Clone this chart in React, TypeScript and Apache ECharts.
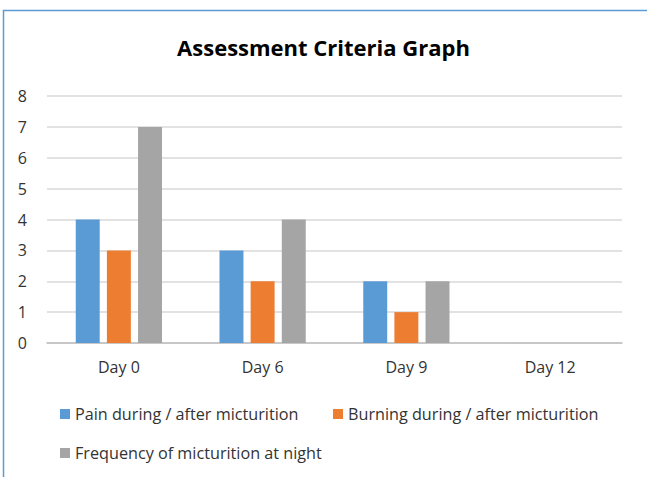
import React, { useEffect, useRef } from "react";
import * as echarts from "echarts";

const categories = ["Day 0", "Day 6", "Day 9", "Day 12"];
const painValues = [4, 3, 2, 0];
const burningValues = [3, 2, 1, 0];
const frequencyValues = [7, 4, 2, 0];
const seriesNames = [
  "Pain during / after micturition",
  "Burning during / after micturition",
  "Frequency of micturition at night",
];
const colors = ["#5B9BD5", "#ED7D31", "#A5A5A5"];
const FONT = "Open Sans";

export default function App() {
  const ref = useRef<HTMLDivElement>(null);
  useEffect(() => {
    if (!ref.current) return;
    const chart = echarts.init(ref.current, undefined, { renderer: "svg" });
    const legendText = { fontFamily: FONT, fontSize: 16.2, color: "#333333" };
    chart.setOption({
      animation: false,
      backgroundColor: "#ffffff",
      title: {
        text: "Assessment Criteria Graph",
        left: "center",
        top: 31,
        textStyle: { fontFamily: FONT, fontSize: 22, fontWeight: "bold", color: "#000000" },
      },
      graphic: [
        {
          type: "rect",
          shape: { x: 3.5, y: 10.5, width: 700, height: 600 },
          style: { fill: "none", stroke: "#5B9BD5", lineWidth: 1.5 },
          silent: true,
        },
      ],
      legend: [0, 1, 2].map((i) => ({
        data: [seriesNames[i]],
        left: [55, 328, 55][i],
        top: [401, 401, 440][i],
        itemWidth: 10,
        itemHeight: 10,
        itemGap: 5,
        icon: "rect",
        textStyle: legendText,
        selectedMode: false,
      })),
      grid: { left: 47, right: 25, top: 96, bottom: 134, containLabel: false },
      xAxis: {
        type: "category",
        data: categories,
        axisLine: { lineStyle: { color: "#BFBFBF", width: 1.5 } },
        axisTick: { show: false },
        axisLabel: { fontFamily: FONT, fontSize: 16, color: "#333333", margin: 16 },
      },
      yAxis: {
        type: "value",
        min: 0,
        max: 8,
        interval: 1,
        axisLine: { show: false },
        axisTick: { show: false },
        splitLine: { lineStyle: { color: "#D9D9D9", width: 1.5 } },
        axisLabel: { fontFamily: FONT, fontSize: 16, color: "#333333", margin: 20 },
      },
      series: [painValues, burningValues, frequencyValues].map((d, i) => ({
        name: seriesNames[i],
        type: "bar",
        data: d,
        itemStyle: { color: colors[i] },
        barGap: "30%",
        barCategoryGap: "40%",
      })),
    });
    return () => chart.dispose();
  }, []);
  return (
    <div
      ref={ref}
      style={{ position: "fixed", left: 0, top: 0, width: 647, height: 477 }}
    />
  );
}
